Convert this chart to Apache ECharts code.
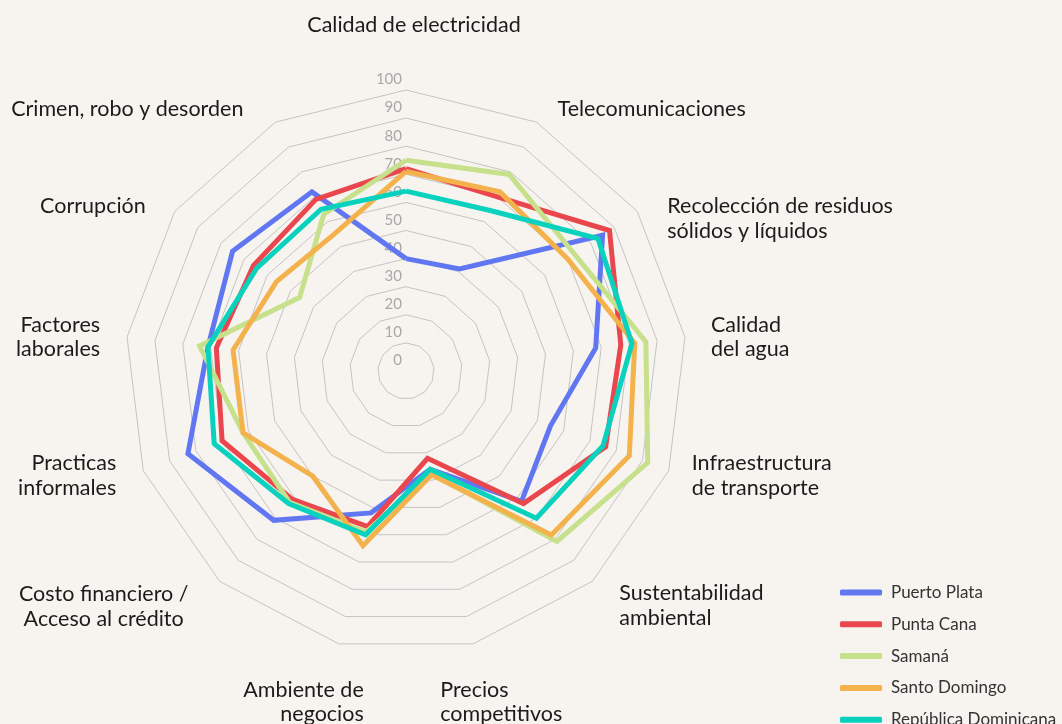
<!DOCTYPE html>
<html>
<head>
<meta charset="utf-8">
<script src="https://cdn.jsdelivr.net/npm/echarts@6/dist/echarts.min.js"></script>
<style>
  html, body { margin: 0; padding: 0; background: #f7f4f0; }
  #chart { width: 1062px; height: 724px; }
</style>
</head>
<body>
<div id="chart"></div>
<script>
// categories, clockwise starting from the top
var categories = [
  'Calidad de electricidad',
  'Telecomunicaciones',
  'Recolección de residuos\nsólidos y líquidos',
  'Calidad\ndel agua',
  'Infraestructura\nde transporte',
  'Sustentabilidad\nambiental',
  'Precios\ncompetitivos',
  'Ambiente de\nnegocios',
  'Costo financiero /\nAcceso al crédito',
  'Practicas\ninformales',
  'Factores\nlaborales',
  'Corrupción',
  'Crimen, robo y desorden'
];

var seriesNames = ['Puerto Plata', 'Punta Cana', 'Samaná', 'Santo Domingo', 'República Dominicana'];

var puertoPlata = [40, 41, 85, 68, 55, 62, 36, 52, 71, 83, 71, 75, 72];
var puntaCana = [72, 70, 88, 77, 76, 63, 32, 57, 61, 70, 68, 66, 69];
var samana = [75, 79, 73, 86, 92, 81, 37.5, 59, 62.5, 62, 74, 46, 63];
var santoDomingo = [71, 72, 70, 82, 85, 78, 38, 64, 50, 62, 62, 56, 55];
var republicaDominicana = [64, 64.5, 83, 81, 75, 70, 36, 60, 63, 73, 71, 64.5, 65];

var axisMax = 100;
var axisStep = 10;

var colors = ['#6177f2', '#e9474d', '#c6e08b', '#f4b24d', '#08d1bd'];

var cx = 406, cy = 371, radius = 281;
var fontFamily = 'Lato, "Noto Sans", sans-serif';

// echarts puts radar indicators counter-clockwise, so keep the first one on top
// and reverse the rest
function ccw(arr) {
  return [arr[0]].concat(arr.slice(1).reverse());
}

var indicators = ccw(categories).map(function (name, i) {
  var ind = { name: name, min: 0, max: axisMax };
  if (i === 0) {
    ind.axisLabel = {
      show: true,
      color: '#a8a8a8',
      fontSize: 15,
      fontFamily: fontFamily,
      margin: 4,
      verticalAlign: 'bottom',
      padding: [0, 0, 3, 0]
    };
  }
  return ind;
});

var allValues = [puertoPlata, puntaCana, samana, santoDomingo, republicaDominicana];
var series = allValues.map(function (vals, i) {
  return {
    type: 'radar',
    name: seriesNames[i],
    symbol: 'none',
    z: 2 + i,
    lineStyle: { width: 5, color: colors[i], join: 'miter' },
    itemStyle: { color: colors[i] },
    data: [{ value: ccw(vals), name: seriesNames[i] }]
  };
});

// category name placement relative to the outer vertex (dx, dy, align)
var nameLayout = [
  [8, -65, 'center'],
  [21, -13, 'left'],
  [30, 7, 'left'],
  [26, 0, 'left'],
  [23, 5, 'left'],
  [27, 24, 'left'],
  [-33, 58, 'left'],
  [25, 58, 'right'],
  [-116, 25, 'center'],
  [-27, 5, 'right'],
  [-27, 0, 'right'],
  [-29, -5, 'right'],
  [-32, -13, 'right']
];

var step = 2 * Math.PI / categories.length;
var nameTexts = categories.map(function (name, k) {
  var a = k * step;
  var vx = cx + radius * Math.sin(a);
  var vy = cy - radius * Math.cos(a);
  var l = nameLayout[k];
  return {
    type: 'text',
    x: vx + l[0],
    y: vy + l[1],
    silent: true,
    style: {
      text: name,
      fill: '#1b1b1b',
      font: '21.5px ' + fontFamily,
      lineHeight: 24.5,
      align: l[2],
      verticalAlign: 'middle',
      textAlign: l[2],
      textVerticalAlign: 'middle'
    }
  };
});

var chart = echarts.init(document.getElementById('chart'));
chart.setOption({
  backgroundColor: '#f7f4f0',
  animation: false,
  legend: {
    orient: 'vertical',
    left: 840,
    top: 584,
    height: 200,
    padding: 0,
    itemWidth: 42,
    itemHeight: 6,
    itemGap: 14.8,
    icon: 'roundRect',
    data: seriesNames,
    textStyle: { color: '#333', fontSize: 17, fontFamily: fontFamily, padding: [0, 0, 0, 4] }
  },
  radar: {
    center: [cx, cy],
    radius: radius,
    startAngle: 90,
    shape: 'polygon',
    splitNumber: axisMax / axisStep,
    indicator: indicators,
    axisName: { show: false },
    axisLine: { show: false },
    axisTick: { show: false },
    axisLabel: { show: false },
    splitArea: { show: false },
    splitLine: { lineStyle: { color: '#c4c4c4', width: 1 } }
  },
  graphic: nameTexts,
  series: series
});
</script>
</body>
</html>
